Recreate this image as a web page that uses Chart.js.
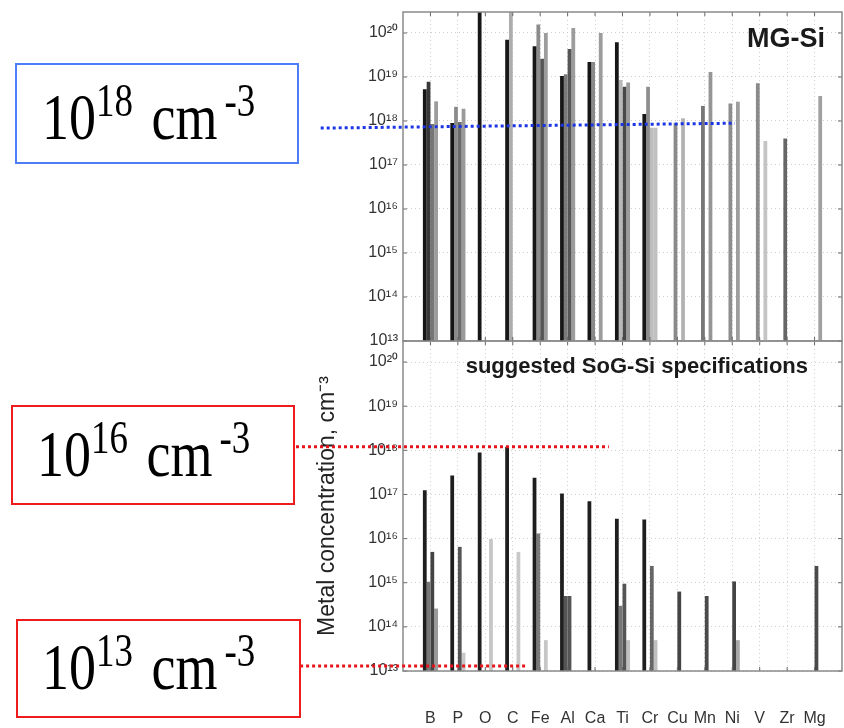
<!DOCTYPE html>
<html><head><meta charset="utf-8">
<script src="https://cdn.jsdelivr.net/npm/chart.js@4/dist/chart.umd.min.js"></script>
<style>
html,body{margin:0;padding:0;background:#fff;}
#wrap{position:relative;width:844px;height:728px;overflow:hidden;background:#fff;}
canvas{position:absolute;left:0;}
#cBot{top:330px;}
#cTop{top:0;}
.box{position:absolute;box-sizing:border-box;border:2px solid;}
.lbl{position:absolute;font-family:'Liberation Serif','Times New Roman',serif;font-size:54px;line-height:54px;white-space:nowrap;color:#000;transform:scaleY(1.23);transform-origin:0 0;}
.lbl sup{font-size:37px;line-height:0;vertical-align:19px;}
.lbl .cm{margin-left:5px;}
.lbl sup.e{margin-left:7px;}
</style></head>
<body>
<div id="wrap">
<canvas id="cBot" width="844" height="398"></canvas>
<canvas id="cTop" width="844" height="360"></canvas>
<div class="box" style="left:15px;top:63px;width:284px;height:101px;border-color:#4f7df7"></div>
<div class="lbl" style="left:42px;top:84px">10<sup>18</sup> <span class="cm">cm</span><sup class="e">-3</sup></div>
<div class="box" style="left:11px;top:405px;width:284px;height:100px;border-color:#ee1c1c"></div>
<div class="lbl" style="left:37px;top:421px">10<sup>16</sup> <span class="cm">cm</span><sup class="e">-3</sup></div>
<div class="box" style="left:16px;top:619px;width:285px;height:99px;border-color:#ee1c1c"></div>
<div class="lbl" style="left:42px;top:634px">10<sup>13</sup> <span class="cm">cm</span><sup class="e">-3</sup></div>
</div>
<script>
// ---------- data ----------
const categories = ['B','P','O','C','Fe','Al','Ca','Ti','Cr','Cu','Mn','Ni','V','Zr','Mg'];
const decadeTicks = [1e13,1e14,1e15,1e16,1e17,1e18,1e19,1e20];
const axisMin = 1e13;
const axisMax = 3e20;

// MG-Si (top panel), four data sources per element
const mgSi1 = [5.3e18, 9e17, 3e20, 7e19, 5e19, 1.05e19, 2.2e19, 6.2e19, 1.45e18, null, null, null, null, null, null];
const mgSi2 = [7.8e18, 2.1e18, null, 3e20, 1.55e20, 1.15e19, 2.2e19, 8.5e18, 6e18, 9e17, 2.2e18, 2.5e18, 7.2e18, 4e17, null];
const mgSi3 = [8.5e17, 9.5e17, null, null, 2.6e19, 4.3e19, null, 6e18, 7e17, null, null, null, null, null, null];
const mgSi4 = [2.8e18, 1.9e18, null, null, 1e20, 1.3e20, 1e20, 7.5e18, 7e17, 1.15e18, 1.3e19, 2.75e18, 3.5e17, null, 3.7e18];

// suggested SoG-Si specifications (bottom panel)
const sog1 = [1.25e17, 2.7e17, 8.9e17, 1.2e18, 2.4e17, 1.05e17, 7e16, 2.8e16, 2.7e16, null, null, null, null, null, null];
const sog2 = [1.05e15, null, null, null, 1.3e16, 5e14, null, 3e14, null, null, null, null, null, null, null];
const sog3 = [5e15, 6.5e15, null, null, null, 5e14, null, 9.5e14, 2.4e15, 6.3e14, 5e14, 1.07e15, null, null, 2.4e15];
const sog4 = [2.6e14, 2.6e13, 9.8e15, 5e15, 5e13, null, null, 5e13, 5e13, null, null, 5e13, null, null, null];

// reference levels marked by the boxes
const refTop = [{ x0: -4.0, x1: 11.1, y0: 6.9e17, y1: 8.9e17, color: '#1a34e6' }];
const refBot = [
  { x0: -4.9, x1: 6.5, y0: 1.2e18, y1: 1.2e18, color: '#e8141b' },
  { x0: -4.75, x1: 3.45, y0: 1.3e13, y1: 1.3e13, color: '#e8141b' }
];

// ---------- styles ----------
const mgColors = [
  '#161616',
  ['#383838','#8a8a8a','#888','#adadad','#8c8c8c','#7a7a7a','#8a8a8a','#b8b8b8','#8e8e8e','#8a8a8a','#767676','#8e8e8e','#8a8a8a','#666666','#888'],
  ['#767676','#6a6a6a','#888','#888','#555555','#555555','#888','#474747','#bdbdbd','#888','#888','#888','#888','#888','#888'],
  ['#9c9c9c','#9a9a9a','#999','#999','#9c9c9c','#9c9c9c','#9c9c9c','#9a9a9a','#c0c0c0','#b2b2b2','#959595','#9e9e9e','#c4c4c4','#999','#a0a0a0']
];
const sogColors = [
  '#1e1e1e',
  ['#777777','#777','#777','#777','#7a7a7a','#555555','#777','#777777','#777','#777','#777','#777','#777','#777','#777'],
  ['#444444','#555555','#555','#555','#555','#555555','#555','#555555','#666666','#444444','#4a4a4a','#444444','#555','#555','#4a4a4a'],
  ['#9a9a9a','#c8c8c8','#c6c6c6','#c8c8c8','#c6c6c6','#c6c6c6','#c6c6c6','#c0c0c0','#c0c0c0','#c0c0c0','#c0c0c0','#a8a8a8','#c0c0c0','#c0c0c0','#c0c0c0']
];

Chart.defaults.font.family = "'Liberation Sans', Arial, sans-serif";
const SUP = {'0':'\u2070','1':'\u00b9','2':'\u00b2','3':'\u00b3','4':'\u2074','5':'\u2075','6':'\u2076','7':'\u2077','8':'\u2078','9':'\u2079'};
const sup = n => String(n).split('').map(d => SUP[d]).join('');

function makeDatasets(series, colors) {
  return series.map((vals, k) => ({
    label: 'source ' + (k + 1),
    data: categories.map((c, i) => ({ x: i, y: vals[i] })),
    backgroundColor: colors[k],
    borderWidth: 0,
    categoryPercentage: 0.55,
    barPercentage: 1,
    clip: 0
  }));
}

const framePlugin = {
  id: 'frame',
  afterDatasetsDraw(chart) {
    const { ctx, chartArea: a, scales: { x, y } } = chart;
    ctx.save();
    ctx.setLineDash([]);
    ctx.strokeStyle = '#666';
    ctx.lineWidth = 1;
    ctx.beginPath();
    y.ticks.forEach(t => {
      const py = y.getPixelForValue(t.value);
      ctx.moveTo(a.left, py); ctx.lineTo(a.left + 4, py);
      ctx.moveTo(a.right, py); ctx.lineTo(a.right - 4, py);
    });
    x.ticks.forEach(t => {
      const px = x.getPixelForValue(t.value);
      ctx.moveTo(px, a.bottom); ctx.lineTo(px, a.bottom - 4);
      ctx.moveTo(px, a.top); ctx.lineTo(px, a.top + 4);
    });
    ctx.stroke();
    ctx.strokeStyle = '#8a8a8a';
    ctx.lineWidth = 1.5;
    ctx.strokeRect(a.left, a.top, a.right - a.left, a.bottom - a.top);
    ctx.restore();
  }
};

const panelText = {
  id: 'panelText',
  afterDraw(chart, args, opts) {
    if (!opts.text) return;
    const { ctx, chartArea: a } = chart;
    ctx.save();
    ctx.font = 'bold ' + opts.size + "px 'Liberation Sans', Arial, sans-serif";
    ctx.fillStyle = '#1a1a1a';
    ctx.textAlign = 'right';
    ctx.textBaseline = 'alphabetic';
    ctx.fillText(opts.text, a.right - opts.inset, a.top + opts.baseline);
    ctx.restore();
  }
};

const refLines = {
  id: 'refLines',
  afterDraw(chart, args, opts) {
    const { ctx, scales: { x, y } } = chart;
    (opts.lines || []).forEach(l => {
      ctx.save();
      ctx.strokeStyle = l.color;
      ctx.lineWidth = 3;
      ctx.setLineDash([3, 3]);
      ctx.beginPath();
      ctx.moveTo(x.getPixelForValue(l.x0), y.getPixelForValue(l.y0));
      ctx.lineTo(x.getPixelForValue(l.x1), y.getPixelForValue(l.y1));
      ctx.stroke();
      ctx.restore();
    });
  }
};

const CLEAR = 'rgba(0,0,0,0)';

function makeOptions(bottom) {
  return {
    responsive: false,
    animation: false,
    layout: { padding: { left: 312, right: 2, top: bottom ? 11 : 12, bottom: 0 } },
    plugins: {
      legend: { display: false },
      tooltip: { enabled: false },
      panelText: bottom
        ? { text: 'suggested SoG-Si specifications', size: 22, inset: 34, baseline: 32 }
        : { text: 'MG-Si', size: 27, inset: 17, baseline: 35 },
      refLines: { lines: bottom ? refBot : refTop }
    },
    scales: {
      x: {
        type: 'linear', min: -1, max: 15, offset: false,
        afterBuildTicks: s => { s.ticks = categories.map((c, i) => ({ value: i })); },
        afterFit: s => { s.height = bottom ? 57 : 19; },
        ticks: {
          display: bottom, autoSkip: false, maxRotation: 0, padding: 3,
          color: '#333', font: { size: 16 },
          callback: v => categories[v] ?? ''
        },
        grid: { color: '#cfcfcf', lineWidth: 1, drawTicks: bottom, tickLength: 35, tickColor: CLEAR, offset: false },
        border: { display: false, dash: [1, 3] }
      },
      y: {
        type: 'logarithmic', min: axisMin, max: axisMax,
        afterBuildTicks: s => { s.ticks = decadeTicks.map(v => ({ value: v })); },
        afterFit: s => { s.width = 91; },
        ticks: {
          autoSkip: false, padding: 0, color: '#333', font: { size: 16 },
          callback: v => '10' + sup(Math.round(Math.log10(v)))
        },
        grid: { color: '#cfcfcf', lineWidth: 1, drawTicks: true, tickLength: 5, tickColor: CLEAR },
        border: { display: false, dash: [1, 3] },
        title: {
          display: bottom, text: 'Metal concentration, cm\u207b\u00b3',
          color: '#222', font: { size: 23 }, padding: { top: 2, bottom: 2 }
        }
      }
    }
  };
}

new Chart(document.getElementById('cTop'), {
  type: 'bar',
  data: { datasets: makeDatasets([mgSi1, mgSi2, mgSi3, mgSi4], mgColors) },
  options: makeOptions(false),
  plugins: [framePlugin, panelText, refLines]
});
new Chart(document.getElementById('cBot'), {
  type: 'bar',
  data: { datasets: makeDatasets([sog1, sog2, sog3, sog4], sogColors) },
  options: makeOptions(true),
  plugins: [framePlugin, panelText, refLines]
});
</script>
</body></html>
